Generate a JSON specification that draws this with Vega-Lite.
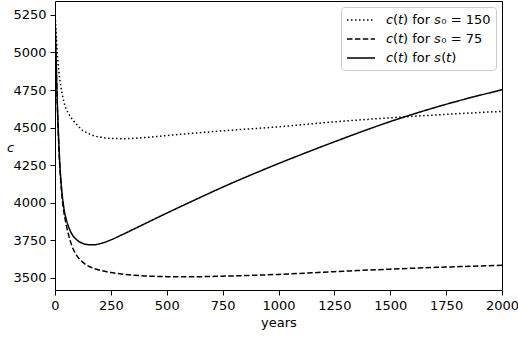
{
  "$schema": "https://vega.github.io/schema/vega-lite/v6.json",
  "width": 447,
  "height": 289,
  "autosize": {"type": "none"},
  "padding": {"left": 55, "top": 1, "right": 16, "bottom": 49},
  "background": "white",
  "config": {
    "view": {"stroke": "black", "strokeWidth": 1},
    "font": "DejaVu Sans",
    "axis": {"domain": false, "grid": false, "tickColor": "black", "tickSize": 5, "tickWidth": 1, "labelFontSize": 13, "labelColor": "black", "labelFont": "DejaVu Sans", "labelPadding": 4, "labelFlush": false, "labelOverlap": false, "titleFont": "DejaVu Sans", "titleFontSize": 13, "titleFontWeight": "normal", "titleColor": "black", "format": "d"},
    "legend": {"orient": "top-right", "offset": 6, "strokeColor": "#cccccc", "fillColor": "white", "cornerRadius": 3, "padding": 5, "labelFontSize": 13, "labelFont": "DejaVu Sans", "labelColor": "black", "symbolType": "M-1,0H3", "symbolSize": 196, "symbolStrokeWidth": 1.5, "symbolStrokeColor": "black", "symbolFillColor": "transparent", "labelOffset": 24, "rowPadding": 4, "labelLimit": 300}
  },
  "data": {"values": [
    {"t": 0, "c": 5270, "series": "𝘤(𝘵) for 𝘴₀ = 150"},
    {"t": 5, "c": 5130, "series": "𝘤(𝘵) for 𝘴₀ = 150"},
    {"t": 10, "c": 5000, "series": "𝘤(𝘵) for 𝘴₀ = 150"},
    {"t": 15, "c": 4905, "series": "𝘤(𝘵) for 𝘴₀ = 150"},
    {"t": 20, "c": 4840, "series": "𝘤(𝘵) for 𝘴₀ = 150"},
    {"t": 30, "c": 4740, "series": "𝘤(𝘵) for 𝘴₀ = 150"},
    {"t": 40, "c": 4670, "series": "𝘤(𝘵) for 𝘴₀ = 150"},
    {"t": 50, "c": 4625, "series": "𝘤(𝘵) for 𝘴₀ = 150"},
    {"t": 60, "c": 4595, "series": "𝘤(𝘵) for 𝘴₀ = 150"},
    {"t": 75, "c": 4560, "series": "𝘤(𝘵) for 𝘴₀ = 150"},
    {"t": 100, "c": 4515, "series": "𝘤(𝘵) for 𝘴₀ = 150"},
    {"t": 125, "c": 4480, "series": "𝘤(𝘵) for 𝘴₀ = 150"},
    {"t": 150, "c": 4460, "series": "𝘤(𝘵) for 𝘴₀ = 150"},
    {"t": 175, "c": 4445, "series": "𝘤(𝘵) for 𝘴₀ = 150"},
    {"t": 200, "c": 4437, "series": "𝘤(𝘵) for 𝘴₀ = 150"},
    {"t": 250, "c": 4428, "series": "𝘤(𝘵) for 𝘴₀ = 150"},
    {"t": 300, "c": 4426, "series": "𝘤(𝘵) for 𝘴₀ = 150"},
    {"t": 400, "c": 4433, "series": "𝘤(𝘵) for 𝘴₀ = 150"},
    {"t": 500, "c": 4447, "series": "𝘤(𝘵) for 𝘴₀ = 150"},
    {"t": 600, "c": 4460, "series": "𝘤(𝘵) for 𝘴₀ = 150"},
    {"t": 750, "c": 4478, "series": "𝘤(𝘵) for 𝘴₀ = 150"},
    {"t": 1000, "c": 4505, "series": "𝘤(𝘵) for 𝘴₀ = 150"},
    {"t": 1250, "c": 4538, "series": "𝘤(𝘵) for 𝘴₀ = 150"},
    {"t": 1500, "c": 4565, "series": "𝘤(𝘵) for 𝘴₀ = 150"},
    {"t": 1750, "c": 4588, "series": "𝘤(𝘵) for 𝘴₀ = 150"},
    {"t": 2000, "c": 4608, "series": "𝘤(𝘵) for 𝘴₀ = 150"},
    {"t": 0, "c": 5270, "series": "𝘤(𝘵) for 𝘴₀ = 75"},
    {"t": 5, "c": 4945, "series": "𝘤(𝘵) for 𝘴₀ = 75"},
    {"t": 10, "c": 4670, "series": "𝘤(𝘵) for 𝘴₀ = 75"},
    {"t": 15, "c": 4455, "series": "𝘤(𝘵) for 𝘴₀ = 75"},
    {"t": 20, "c": 4285, "series": "𝘤(𝘵) for 𝘴₀ = 75"},
    {"t": 30, "c": 4065, "series": "𝘤(𝘵) for 𝘴₀ = 75"},
    {"t": 40, "c": 3935, "series": "𝘤(𝘵) for 𝘴₀ = 75"},
    {"t": 50, "c": 3855, "series": "𝘤(𝘵) for 𝘴₀ = 75"},
    {"t": 60, "c": 3790, "series": "𝘤(𝘵) for 𝘴₀ = 75"},
    {"t": 75, "c": 3715, "series": "𝘤(𝘵) for 𝘴₀ = 75"},
    {"t": 100, "c": 3642, "series": "𝘤(𝘵) for 𝘴₀ = 75"},
    {"t": 125, "c": 3602, "series": "𝘤(𝘵) for 𝘴₀ = 75"},
    {"t": 150, "c": 3577, "series": "𝘤(𝘵) for 𝘴₀ = 75"},
    {"t": 175, "c": 3561, "series": "𝘤(𝘵) for 𝘴₀ = 75"},
    {"t": 200, "c": 3550, "series": "𝘤(𝘵) for 𝘴₀ = 75"},
    {"t": 250, "c": 3534, "series": "𝘤(𝘵) for 𝘴₀ = 75"},
    {"t": 300, "c": 3524, "series": "𝘤(𝘵) for 𝘴₀ = 75"},
    {"t": 400, "c": 3512, "series": "𝘤(𝘵) for 𝘴₀ = 75"},
    {"t": 500, "c": 3507, "series": "𝘤(𝘵) for 𝘴₀ = 75"},
    {"t": 600, "c": 3506, "series": "𝘤(𝘵) for 𝘴₀ = 75"},
    {"t": 750, "c": 3510, "series": "𝘤(𝘵) for 𝘴₀ = 75"},
    {"t": 1000, "c": 3522, "series": "𝘤(𝘵) for 𝘴₀ = 75"},
    {"t": 1250, "c": 3540, "series": "𝘤(𝘵) for 𝘴₀ = 75"},
    {"t": 1500, "c": 3557, "series": "𝘤(𝘵) for 𝘴₀ = 75"},
    {"t": 1750, "c": 3571, "series": "𝘤(𝘵) for 𝘴₀ = 75"},
    {"t": 2000, "c": 3583, "series": "𝘤(𝘵) for 𝘴₀ = 75"},
    {"t": 0, "c": 5270, "series": "𝘤(𝘵) for 𝘴(𝘵)"},
    {"t": 5, "c": 4950, "series": "𝘤(𝘵) for 𝘴(𝘵)"},
    {"t": 10, "c": 4680, "series": "𝘤(𝘵) for 𝘴(𝘵)"},
    {"t": 15, "c": 4470, "series": "𝘤(𝘵) for 𝘴(𝘵)"},
    {"t": 20, "c": 4300, "series": "𝘤(𝘵) for 𝘴(𝘵)"},
    {"t": 30, "c": 4085, "series": "𝘤(𝘵) for 𝘴(𝘵)"},
    {"t": 40, "c": 3962, "series": "𝘤(𝘵) for 𝘴(𝘵)"},
    {"t": 50, "c": 3890, "series": "𝘤(𝘵) for 𝘴(𝘵)"},
    {"t": 60, "c": 3842, "series": "𝘤(𝘵) for 𝘴(𝘵)"},
    {"t": 75, "c": 3792, "series": "𝘤(𝘵) for 𝘴(𝘵)"},
    {"t": 100, "c": 3749, "series": "𝘤(𝘵) for 𝘴(𝘵)"},
    {"t": 125, "c": 3728, "series": "𝘤(𝘵) for 𝘴(𝘵)"},
    {"t": 150, "c": 3720, "series": "𝘤(𝘵) for 𝘴(𝘵)"},
    {"t": 175, "c": 3719, "series": "𝘤(𝘵) for 𝘴(𝘵)"},
    {"t": 200, "c": 3726, "series": "𝘤(𝘵) for 𝘴(𝘵)"},
    {"t": 250, "c": 3752, "series": "𝘤(𝘵) for 𝘴(𝘵)"},
    {"t": 300, "c": 3786, "series": "𝘤(𝘵) for 𝘴(𝘵)"},
    {"t": 400, "c": 3858, "series": "𝘤(𝘵) for 𝘴(𝘵)"},
    {"t": 500, "c": 3930, "series": "𝘤(𝘵) for 𝘴(𝘵)"},
    {"t": 600, "c": 4000, "series": "𝘤(𝘵) for 𝘴(𝘵)"},
    {"t": 750, "c": 4103, "series": "𝘤(𝘵) for 𝘴(𝘵)"},
    {"t": 1000, "c": 4260, "series": "𝘤(𝘵) for 𝘴(𝘵)"},
    {"t": 1250, "c": 4405, "series": "𝘤(𝘵) for 𝘴(𝘵)"},
    {"t": 1500, "c": 4540, "series": "𝘤(𝘵) for 𝘴(𝘵)"},
    {"t": 1750, "c": 4655, "series": "𝘤(𝘵) for 𝘴(𝘵)"},
    {"t": 2000, "c": 4752, "series": "𝘤(𝘵) for 𝘴(𝘵)"}
  ]},
  "mark": {"type": "line", "color": "black", "strokeWidth": 1.5, "interpolate": "monotone", "clip": true},
  "encoding": {
    "x": {"field": "t", "type": "quantitative", "scale": {"domain": [0, 2000], "nice": false, "zero": false}, "axis": {"values": [0, 250, 500, 750, 1000, 1250, 1500, 1750, 2000], "title": "years", "titlePadding": 4}},
    "y": {"field": "c", "type": "quantitative", "scale": {"domain": [3418, 5343], "nice": false, "zero": false}, "axis": {"values": [3500, 3750, 4000, 4250, 4500, 4750, 5000, 5250], "title": "c", "titleAngle": 0, "titleFontStyle": "italic", "titleX": -45, "titleY": 146, "titleAlign": "center", "titleBaseline": "middle"}},
    "strokeDash": {"field": "series", "type": "nominal", "sort": null, "scale": {"domain": ["𝘤(𝘵) for 𝘴₀ = 150", "𝘤(𝘵) for 𝘴₀ = 75", "𝘤(𝘵) for 𝘴(𝘵)"], "range": [[1.5, 2.5], [5.5, 2.4], [1, 0]]}, "legend": {"title": null}}
  }
}
